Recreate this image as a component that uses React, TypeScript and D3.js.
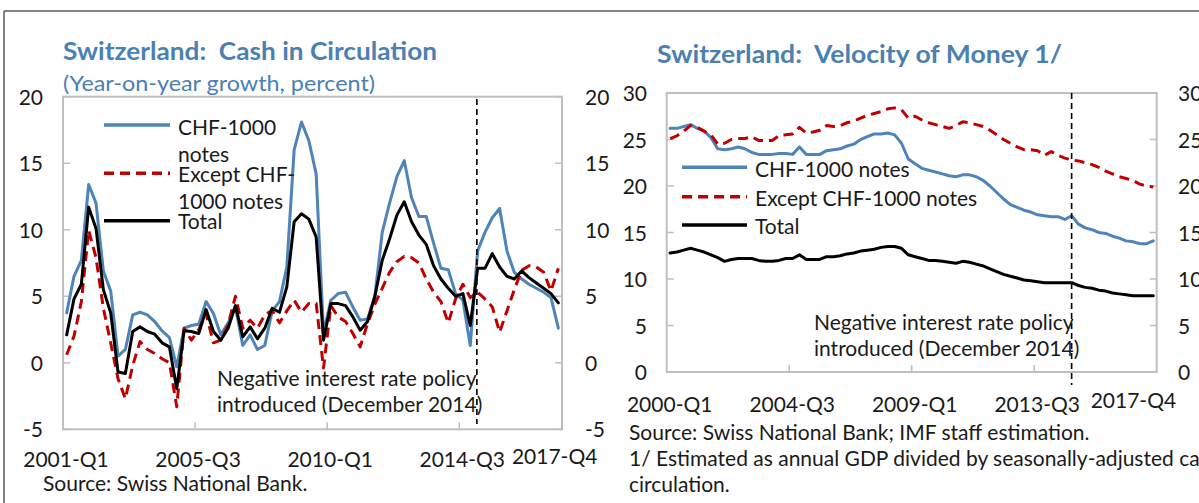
import React from "react";
import * as d3 from "d3";

// ---------- Left chart: Cash in circulation (y/y growth, %) 2001Q1–2017Q4 ----------
const leftStartYear = 2001;
const cashCHF1000 = [
  3.75, 6.5, 7.7, 13.4, 12.0, 6.9, 5.4, 0.5, 1.0, 3.6, 3.8, 3.6, 3.1, 2.4, 1.9, -0.3,
  2.6, 2.8, 2.9, 4.6, 3.7, 2.1, 3.0, 4.2, 1.3, 2.1, 1.0, 1.3, 3.9, 4.6, 7.2, 16.0,
  18.1, 16.7, 14.2, 2.2, 4.7, 5.2, 5.3, 4.2, 3.2, 3.3, 5.0, 9.8, 12.0, 14.0, 15.2, 12.4,
  11.0, 11.0, 9.0, 7.1, 7.0, 5.2, 4.7, 1.3, 8.4, 9.8, 10.9, 11.6, 8.4, 6.8, 6.3, 5.9,
  5.6, 5.3, 4.9, 2.6,
];
const cashExcept1000 = [
  0.6, 2.0, 4.6, 9.95, 7.9, 4.1, 1.5, -1.2, -2.7, -0.2, 1.6, 1.0, 0.7, 0.3, 0.0, -3.3,
  2.6, 1.7, 2.5, 3.7, 1.5, 1.7, 2.85, 5.0, 2.6, 3.2, 2.6, 3.6, 3.95, 3.0, 3.9, 4.7,
  3.8, 4.45, 4.45, -0.4, 4.3, 3.45, 3.1, 2.2, 1.2, 2.95, 4.4, 5.6, 6.8, 7.6, 8.0, 7.9,
  7.5, 6.3, 5.3, 4.6, 3.0, 4.8, 5.9, 4.9, 5.3, 4.8, 4.2, 2.3, 3.9, 5.5, 6.95, 7.3,
  7.2, 6.8, 5.4, 7.1,
];
const cashTotal = [
  2.1, 4.8, 5.9, 11.7, 10.1, 5.5, 3.75, -0.7, -0.8, 2.35, 2.7, 2.35, 2.15, 1.5, 1.2, -1.95,
  2.4, 2.35, 2.2, 4.0, 2.35, 1.7, 2.6, 4.3, 1.95, 2.7, 1.8, 2.6, 4.1, 3.8, 5.7, 10.6,
  11.2, 10.8, 9.45, 1.7, 4.45, 4.45, 4.3, 3.45, 2.45, 3.1, 5.0, 7.7, 9.3, 11.1, 12.1, 10.6,
  9.6, 8.9, 7.3, 6.3, 5.6, 5.0, 5.2, 2.8, 7.1, 7.1, 8.2, 7.2, 6.5, 6.3, 6.9, 6.4,
  6.0, 5.6, 5.2, 4.5,
];
const leftYTicks = [-5, 0, 5, 10, 15, 20];
const leftXTickLabels = ["2001-Q1", "2005-Q3", "2010-Q1", "2014-Q3", "2017-Q4"];
const leftXTickTimes = [2001, 2005.5, 2010, 2014.5, 2017.75];
const leftPolicyTime = 2015.1;

// ---------- Right chart: Velocity of money 2000Q1–2017Q4 ----------
const rightStartYear = 2000;
const velCHF1000 = [
  26.2, 26.2, 26.4, 26.6, 26.2, 25.9, 25.2, 24.0, 23.9, 24.0, 24.2, 24.0, 23.6, 23.4, 23.4, 23.4,
  23.5, 23.5, 23.4, 24.2, 23.4, 23.4, 23.4, 23.8, 23.9, 24.0, 24.3, 24.5, 25.0, 25.3, 25.6, 25.6,
  25.7, 25.5, 24.6, 22.9, 22.4, 21.9, 21.7, 21.5, 21.3, 21.1, 21.0, 21.2, 21.2, 21.0, 20.6, 20.0,
  19.3, 18.6, 18.0, 17.7, 17.4, 17.2, 16.9, 16.8, 16.7, 16.7, 16.4, 16.8, 15.9, 15.5, 15.3, 15.0,
  14.9, 14.6, 14.4, 14.1, 14.0, 13.8, 13.8, 14.1,
];
const velExcept1000 = [
  25.1, 25.4, 25.9, 26.5, 26.3, 25.9, 25.5, 24.5, 24.6, 25.0, 25.1, 25.1, 25.3, 24.9, 24.9, 24.9,
  25.4, 25.5, 25.6, 26.3, 25.7, 25.8, 26.0, 26.5, 26.4, 26.5, 26.8, 27.0, 27.3, 27.6, 27.8, 28.0,
  28.3, 28.4, 28.2, 27.3, 27.5, 27.1, 26.8, 26.6, 26.4, 26.2, 26.5, 26.9, 26.8, 26.6, 26.4, 26.0,
  25.5, 25.0, 24.6, 24.2, 23.9, 23.9, 23.8, 23.3, 23.7, 23.3, 23.0, 22.8, 22.7, 22.5, 22.3, 22.0,
  21.6, 21.3, 21.0, 20.8, 20.6, 20.2, 20.0, 19.9,
];
const velTotal = [
  12.8, 12.9, 13.1, 13.3, 13.1, 12.9, 12.6, 12.3, 11.9, 12.1, 12.2, 12.2, 12.2, 12.0, 11.9, 11.9,
  12.0, 12.2, 12.2, 12.6, 12.1, 12.1, 12.1, 12.4, 12.4, 12.5, 12.7, 12.8, 13.0, 13.1, 13.2, 13.4,
  13.5, 13.5, 13.3, 12.6, 12.4, 12.2, 12.0, 12.0, 11.9, 11.8, 11.7, 11.9, 11.8, 11.6, 11.4, 11.1,
  10.8, 10.5, 10.3, 10.1, 9.9, 9.8, 9.7, 9.6, 9.6, 9.6, 9.6, 9.6, 9.3, 9.1, 9.0, 8.8,
  8.7, 8.5, 8.4, 8.3, 8.2, 8.2, 8.2, 8.2,
];
const rightYTicks = [0, 5, 10, 15, 20, 25, 30];
const rightXTickLabels = ["2000-Q1", "2004-Q3", "2009-Q1", "2013-Q3", "2017-Q4"];
const rightXTickTimes = [2000, 2004.5, 2009, 2013.5, 2017.75];
const rightPolicyTime = 2014.875;

// ---------- styling ----------
const FONT = "Lato, 'Open Sans', sans-serif";
const BLUE = "#4f84b8";
const RED = "#c00000";
const BLACK = "#000000";
const TITLE = "#4b80b3";
const FRAME = "#bfbfbf";
const TXT = "#1a1a1a";

type SeriesDef = { name: string; values: number[]; color: string; dash?: string };

const toPoints = (start: number, values: number[]) =>
  values.map((v, i) => ({ t: start + (i + 0.5) / 4, v }));

function Panel(props: {
  x0: number; x1: number; yTop: number; yBot: number;
  tDomain: [number, number]; yDomain: [number, number];
  start: number; series: SeriesDef[];
  yTicks: number[]; tickTimes: number[]; tickLabels: string[];
  labelY: number; lastLabelDx: number; lastLabelDy: number;
  leftLabelX: number; rightLabelX: number;
  policyT: number; policyTop: number; policyBot: number;
}) {
  const p = props;
  const x = d3.scaleLinear().domain(p.tDomain).range([p.x0, p.x1]);
  const y = d3.scaleLinear().domain(p.yDomain).range([p.yBot, p.yTop]);
  const line = d3
    .line<{ t: number; v: number }>()
    .x((d) => x(d.t))
    .y((d) => y(d.v));
  const px = x(p.policyT);
  return (
    <g>
      {/* frame */}
      <rect x={p.x0} y={p.yTop} width={p.x1 - p.x0} height={p.yBot - p.yTop}
        fill="none" stroke={FRAME} strokeWidth={2} />
      {/* y ticks (inside, both sides) */}
      {p.yTicks.map((v) => (
        <g key={"yt" + v}>
          <line x1={p.x0} x2={p.x0 + 7} y1={y(v)} y2={y(v)} stroke={FRAME} strokeWidth={1.5} />
          <line x1={p.x1 - 7} x2={p.x1} y1={y(v)} y2={y(v)} stroke={FRAME} strokeWidth={1.5} />
          <text x={p.leftLabelX} y={y(v) + 8} textAnchor="end" fontSize={21} fill={TXT}>{v}</text>
          <text x={p.rightLabelX} y={y(v) + 8} textAnchor="start" fontSize={21} fill={TXT}>{v}</text>
        </g>
      ))}
      {/* x ticks */}
      {p.tickTimes.slice(1, 4).map((t) => (
        <line key={"xt" + t} x1={x(t)} x2={x(t)} y1={p.yBot} y2={p.yBot - 7} stroke={FRAME} strokeWidth={1.5} />
      ))}
      {p.tickLabels.map((lab, i) => {
        const last = i === p.tickLabels.length - 1;
        return (
          <text key={lab} x={x(p.tickTimes[i]) + (last ? p.lastLabelDx : 3)}
            y={p.labelY + (last ? p.lastLabelDy : 0)} textAnchor="middle" fontSize={21} fill={TXT}>
            {lab}
          </text>
        );
      })}
      {/* series */}
      {p.series.map((s) => (
        <path key={s.name} d={line(toPoints(p.start, s.values)) || ""} fill="none"
          stroke={s.color} strokeWidth={3} strokeDasharray={s.dash}
          strokeLinejoin="round" strokeLinecap={s.dash ? "butt" : "round"} />
      ))}
      {/* policy line */}
      <line x1={px} x2={px} y1={p.policyTop} y2={p.policyBot} stroke={BLACK}
        strokeWidth={1.6} strokeDasharray="6,4" />
    </g>
  );
}

export default function App() {
  const leftSeries: SeriesDef[] = [
    { name: "CHF-1000 notes", values: cashCHF1000, color: BLUE },
    { name: "Except CHF-1000 notes", values: cashExcept1000, color: RED, dash: "10,6" },
    { name: "Total", values: cashTotal, color: BLACK },
  ];
  const rightSeries: SeriesDef[] = [
    { name: "CHF-1000 notes", values: velCHF1000, color: BLUE },
    { name: "Except CHF-1000 notes", values: velExcept1000, color: RED, dash: "10,6" },
    { name: "Total", values: velTotal, color: BLACK },
  ];

  return (
    <svg width={1199} height={503} style={{ position: "absolute", left: 0, top: 0, background: "#fff" }}
      fontFamily={FONT}>
      <rect x={0} y={0} width={1199} height={503} fill="#fff" />
      {/* outer frame */}
      <line x1={4} x2={1199} y1={11} y2={11} stroke="#5a5a5a" strokeWidth={1.5} />
      <line x1={4} x2={4} y1={11} y2={503} stroke="#5a5a5a" strokeWidth={1.5} />

      {/* ---- Left panel ---- */}
      <text x={63} y={60} fontSize={25} fontWeight="bold" fill={TITLE}
        style={{ whiteSpace: "pre" }} textLength={374} lengthAdjust="spacingAndGlyphs">
        {"Switzerland:  Cash in Circulation"}
      </text>
      <text x={63} y={91} fontSize={22} fill={TITLE} textLength={312} lengthAdjust="spacingAndGlyphs">
        (Year-on-year growth, percent)
      </text>
      <Panel x0={63} x1={562} yTop={96.7} yBot={429.3} tDomain={[2001, 2018]} yDomain={[-5, 20]}
        start={leftStartYear} series={leftSeries} yTicks={leftYTicks}
        tickTimes={leftXTickTimes} tickLabels={leftXTickLabels} labelY={467}
        lastLabelDx={0} lastLabelDy={-3.5} leftLabelX={43} rightLabelX={585}
        policyT={leftPolicyTime} policyTop={99} policyBot={424} />
      {/* left legend */}
      <g fontSize={21} fill={TXT}>
        <line x1={104} x2={170} y1={125} y2={125} stroke={BLUE} strokeWidth={3.5} />
        <text x={178} y={135}>CHF-1000</text>
        <text x={178} y={161.5}>notes</text>
        <line x1={104} x2={170} y1={173.3} y2={173.3} stroke={RED} strokeWidth={3.5} strokeDasharray="10,6" />
        <text x={178} y={182}>Except CHF-</text>
        <text x={178} y={208.5}>1000 notes</text>
        <line x1={104} x2={170} y1={220.7} y2={220.7} stroke={BLACK} strokeWidth={3.5} />
        <text x={178} y={229}>Total</text>
      </g>
      {/* left annotation */}
      <g fontSize={21} fill={TXT}>
        <text x={217} y={386}>Negative interest rate policy</text>
        <text x={217} y={412}>introduced (December 2014)</text>
      </g>
      <text x={43} y={491} fontSize={21} fill={TXT}>Source: Swiss National Bank.</text>

      {/* ---- Right panel ---- */}
      <text x={657} y={63} fontSize={25} fontWeight="bold" fill={TITLE}
        style={{ whiteSpace: "pre" }} textLength={405} lengthAdjust="spacingAndGlyphs">
        {"Switzerland:  Velocity of Money 1/"}
      </text>
      <Panel x0={666.7} x1={1156.7} yTop={93} yBot={372} tDomain={[2000, 2018]} yDomain={[0, 30]}
        start={rightStartYear} series={rightSeries} yTicks={rightYTicks}
        tickTimes={rightXTickTimes} tickLabels={rightXTickLabels} labelY={412}
        lastLabelDx={-16.5} lastLabelDy={-4} leftLabelX={647} rightLabelX={1178}
        policyT={rightPolicyTime} policyTop={93} policyBot={385} />
      {/* right legend */}
      <g fontSize={21} fill={TXT}>
        <line x1={682} x2={747} y1={167.3} y2={167.3} stroke={BLUE} strokeWidth={3.5} />
        <text x={755} y={176.5}>CHF-1000 notes</text>
        <line x1={682} x2={747} y1={196.7} y2={196.7} stroke={RED} strokeWidth={3.5} strokeDasharray="10,6" />
        <text x={755} y={205.5}>Except CHF-1000 notes</text>
        <line x1={682} x2={747} y1={225} y2={225} stroke={BLACK} strokeWidth={3.5} />
        <text x={755} y={234}>Total</text>
      </g>
      {/* right annotation */}
      <g fontSize={21} fill={TXT}>
        <text x={814} y={330}>Negative interest rate policy</text>
        <text x={814} y={356}>introduced (December 2014)</text>
      </g>
      <g fontSize={21} fill={TXT}>
        <text x={629} y={440}>Source: Swiss National Bank; IMF staff estimation.</text>
        <text x={629} y={466}>1/ Estimated as annual GDP divided by seasonally-adjusted cash in</text>
        <text x={629} y={492}>circulation.</text>
      </g>
    </svg>
  );
}
